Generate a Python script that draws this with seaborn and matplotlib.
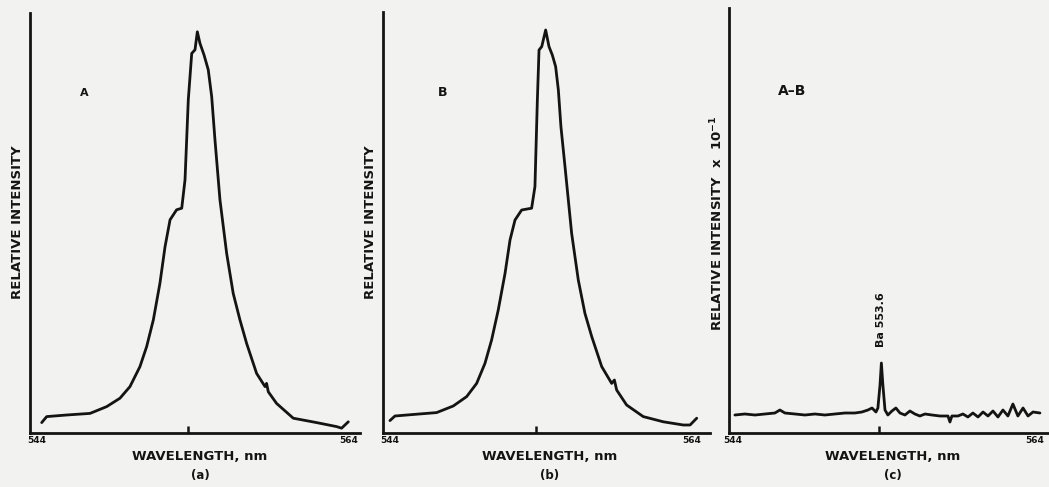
import matplotlib
matplotlib.use("Agg")
import matplotlib.pyplot as plt
import seaborn as sns
import pandas as pd

# ---------------- data ----------------
# Panel A : spectrum A
A_nm = [544.30, 544.62, 545.90, 547.40, 548.47, 549.32, 549.96, 550.60, 551.03,
        551.46, 551.88, 552.21, 552.53, 552.95, 553.28, 553.49, 553.70, 553.92,
        554.13, 554.28, 554.45, 554.71, 554.98, 555.20, 555.41, 555.73, 556.16,
        556.58, 557.01, 557.44, 558.08, 558.62, 558.72, 558.83, 559.36, 560.43,
        561.93, 563.21, 563.53, 563.96]
A_int = [2.6, 4.1, 4.5, 4.9, 6.6, 8.7, 11.6, 16.6, 21.6,
         28.3, 37.4, 46.6, 53.3, 55.8, 56.2, 63.3, 83.3, 94.9,
         95.8, 100.3, 97.4, 94.5, 90.8, 84.1, 73.3, 58.3, 44.9,
         34.9, 28.3, 22.4, 14.9, 11.6, 12.4, 10.3, 7.4, 3.7,
         2.6, 1.6, 1.2, 2.8]

# Panel B : spectrum B
B_nm = [544.00, 544.33, 545.77, 547.09, 548.19, 549.08, 549.74, 550.29, 550.73,
        551.17, 551.62, 551.95, 552.28, 552.72, 553.38, 553.60, 553.76, 553.87,
        554.05, 554.31, 554.53, 554.75, 554.97, 555.15, 555.32, 555.59, 556.03,
        556.47, 556.91, 557.36, 558.02, 558.68, 558.86, 559.01, 559.67, 560.77,
        562.10, 563.42, 563.87, 564.31]
B_int = [3.1, 4.25, 4.7, 5.1, 6.75, 9.1, 12.4, 17.4, 23.25,
         30.75, 39.9, 48.25, 53.25, 55.75, 56.2, 61.6, 83.25, 95.75,
         96.6, 100.75, 96.6, 94.5, 91.6, 85.75, 76.6, 66.6, 49.9,
         38.25, 29.9, 24.1, 16.6, 12.4, 13.25, 10.75, 7.0, 4.1,
         2.8, 2.0, 2.0, 3.7]

# Panel C : difference A-B (x 10^-1)
C_nm = [544.13, 544.79, 545.46, 546.12, 546.78, 547.11, 547.44, 548.11, 548.77,
        549.43, 550.09, 550.75, 551.42, 552.08, 552.54, 552.94, 553.21, 553.47,
        553.60, 553.74, 553.83, 553.93, 554.07, 554.26, 554.53, 554.79, 555.06,
        555.39, 555.72, 556.05, 556.38, 556.72, 557.18, 557.71, 558.24, 558.37,
        558.50, 558.90, 559.23, 559.56, 559.89, 560.23, 560.56, 560.89, 561.22,
        561.55, 561.88, 562.21, 562.54, 562.87, 563.21, 563.54, 563.87, 564.33]
C_int = [4.5, 4.75, 4.5, 4.75, 5.0, 5.75, 5.0, 4.75, 4.5,
         4.75, 4.5, 4.75, 5.0, 5.0, 5.25, 5.75, 6.25, 5.25,
         6.25, 12.0, 17.5, 12.0, 5.75, 4.5, 5.5, 6.25, 5.0,
         4.5, 5.5, 4.75, 4.25, 4.75, 4.5, 4.25, 4.25, 2.75,
         4.25, 4.25, 4.75, 4.0, 5.0, 4.0, 5.25, 4.25, 5.5,
         4.0, 5.75, 4.25, 7.25, 4.25, 6.25, 4.25, 5.25, 5.0]

tick_labels = ["544", "564"]
tick_values = [544, 564]
marker_nm = 553.7
panel_letters = ["A", "B", "A\u2013B"]
sub_labels = ["(a)", "(b)", "(c)"]
y_labels = ["RELATIVE INTENSITY", "RELATIVE INTENSITY", "RELATIVE INTENSITY  x  10$^{-1}$"]
x_label = "WAVELENGTH, nm"
ba_label = "Ba 553.6"

# ---------------- figure ----------------
sns.set_theme(style="white")
plt.rcParams["font.family"] = ["DejaVu Sans"]
plt.rcParams["font.weight"] = "bold"

W, H = 1049, 487
paper = "#f2f2f0"
ink = "#141414"
fig = plt.figure(figsize=(W / 100, H / 100), dpi=100, facecolor=paper)

def px(x, y):
    return x / W, 1 - y / H

# axes rectangles in pixels: (left, top, right, bottom) and x-limits
panels = [
    dict(rect=(30, 13, 360, 433), xlim=(543.55, 564.71), ytop=105.0,
         nm=A_nm, val=A_int),
    dict(rect=(383, 12, 710, 433), xlim=(543.54, 565.19), ytop=105.25,
         nm=B_nm, val=B_int),
    dict(rect=(729, 8, 1049, 433), xlim=(543.74, 564.93), ytop=106.25,
         nm=C_nm, val=C_int),
]
ylab_x = [18, 370, 717]
ylab_y = [222, 222, 223]
xlab_x = [200, 550, 893]
letter_pos = [(84, 93, 8), (443, 92, 9), (792, 91, 10)]

axes = []
for i, p in enumerate(panels):
    l, t, r, b = p["rect"]
    ax = fig.add_axes([l / W, 1 - b / H, (r - l) / W, (b - t) / H])
    ax.set_facecolor("none")
    df = pd.DataFrame({"nm": p["nm"], "val": p["val"]})
    sns.lineplot(data=df, x="nm", y="val", ax=ax, color=ink, lw=2.0,
                 estimator=None, sort=False, solid_joinstyle="round",
                 solid_capstyle="round")
    ax.set_xlim(*p["xlim"])
    ax.set_ylim(0, p["ytop"])
    ax.set_xlabel("")
    ax.set_ylabel("")
    ax.set_yticks([])
    ax.set_xticks(tick_values)
    ax.set_xticklabels(tick_labels, fontsize=6.5, fontweight="bold", color=ink)
    ax.tick_params(axis="x", which="major", length=0, pad=2.5)
    ax.set_xticks([marker_nm], minor=True)
    ax.tick_params(axis="x", which="minor", bottom=True, direction="in",
                   length=5, width=1.8, color=ink)
    for s in ["top", "right"]:
        ax.spines[s].set_visible(False)
    for s in ["left", "bottom"]:
        ax.spines[s].set_color(ink)
        ax.spines[s].set_linewidth(2.0)
    ax.grid(False)
    axes.append(ax)

    fig.text(*px(ylab_x[i], ylab_y[i]), y_labels[i], rotation=90,
             ha="center", va="center", fontsize=9.5, fontweight="bold", color=ink)
    fig.text(*px(xlab_x[i], 457), x_label, ha="center", va="center",
             fontsize=9.5, fontweight="bold", color=ink)
    fig.text(*px(xlab_x[i], 475), sub_labels[i], ha="center", va="center",
             fontsize=8.5, fontweight="bold", color=ink)
    lx, ly, fs = letter_pos[i]
    fig.text(*px(lx, ly), panel_letters[i], ha="center", va="center",
             fontsize=fs, fontweight="bold", color=ink)

# Ba line annotation on panel C
axes[2].text(553.78, 21.5, ba_label, rotation=90, ha="center", va="bottom",
             fontsize=8, fontweight="bold", color=ink)

fig.savefig("out.png", dpi=100, facecolor=paper)
